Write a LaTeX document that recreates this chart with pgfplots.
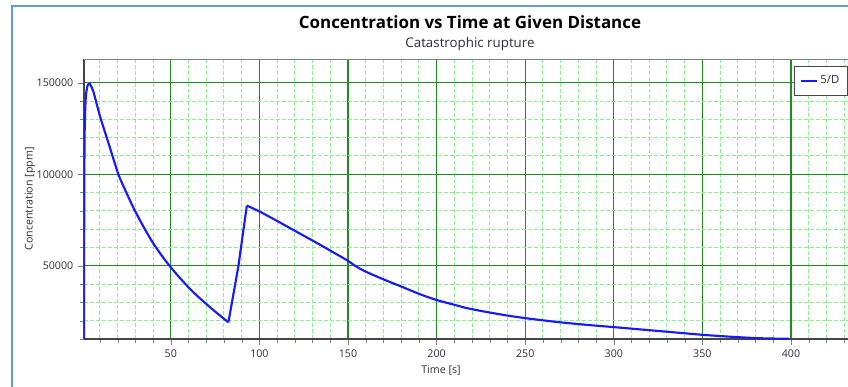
\documentclass[border=0pt]{standalone}
\usepackage{fontspec}
\setmainfont{Open Sans}
\usepackage{pgfplots}
\usepackage{pgfplotstable}
\pgfplotsset{compat=1.18}

\definecolor{gridmajor}{RGB}{30,140,30}
\definecolor{gridminor}{RGB}{144,238,144}
\definecolor{axisgray}{RGB}{70,70,70}
\definecolor{topgray}{RGB}{130,130,130}
\definecolor{framebl}{RGB}{100,155,215}
\definecolor{curveblue}{RGB}{25,25,255}
\definecolor{labelink}{RGB}{45,45,60}

% concentration series, split where the release restarts
\pgfplotstableread{
t c
1.0 10000
1.15 90000
1.4 125000
2.0 142000
3.0 148500
4.1 149500
5.0 148200
6.5 144500
10.1 131500
15 116500
20.4 100000
25 89800
29.5 80550
35 70600
40 62400
45 55400
49.6 49600
55 43500
60.9 37300
66 32600
72.2 27300
77 23400
82.5 19100
}\firstpuff
\pgfplotstableread{
t c
82.5 19100
88.1 49600
92.9 82900
}\secondrise
\pgfplotstableread{
t c
92.9 82900
100 79700
110 74500
123 67500
130 63800
140 58300
150 52700
154 50000
160 46800
170 42600
180 38700
190 34700
200 31300
210 28700
217 26900
228 24800
240 22800
250 21400
260 20200
270 19100
285 17700
300 16500
325 14400
350 12300
365 11300
380 10500
390 10250
399 10100
}\decaytail

\begin{document}
\begin{tikzpicture}
\begin{axis}[
  name=ax,
  scale only axis,
  width=579pt, height=210pt,
  xmin=1, xmax=436.7,
  ymin=10000, ymax=163000,
  axis lines*=left,
  axis line style={-, axisgray, line width=0.9pt},
  xtick distance=50, ytick distance=50000,
  minor x tick num=4, minor y tick num=4,
  tick align=outside,
  major tick length=4.5pt, minor tick length=3pt,
  scaled y ticks=false,
  /pgf/number format/fixed,
  /pgf/number format/precision=0,
  /pgf/number format/1000 sep={},
  /pgf/number format/assume math mode=true,
  ticklabel style={font=\fontsize{8}{9}\selectfont, text=labelink},
  grid=both,
  major grid style={draw=gridmajor, line width=0.8pt, solid},
  minor grid style={draw=gridminor, line width=0.75pt, dash pattern=on 3pt off 1.5pt},
  xlabel={Time [s]},
  xlabel style={at={(axis description cs:0.4624,-0.114)}, anchor=center,
    font=\fontsize{8}{9}\selectfont, text=labelink},
  ylabel={Concentration [ppm]},
  ylabel style={at={(axis description cs:-0.070,0.5)}, anchor=center,
    font=\fontsize{8}{9}\selectfont, text=labelink},
  legend style={at={(axis description cs:0.9197,0.975)}, anchor=north west,
    draw=axisgray, fill=white, font=\fontsize{8.5}{10}\selectfont,
    text=labelink, inner xsep=4pt, inner ysep=5pt},
  legend cell align=left,
  legend image code/.code={\draw[#1] (0pt,0pt) -- (12pt,0pt);},
]
\addplot[curveblue, line width=1.6pt, line join=round, smooth, tension=0.4]
  table[x=t, y=c] {\firstpuff};
\addlegendentry{5/D}
\addplot[curveblue, line width=1.6pt, line join=round, forget plot]
  table[x=t, y=c] {\secondrise};
\addplot[curveblue, line width=1.6pt, line join=round, smooth, tension=0.4, forget plot]
  table[x=t, y=c] {\decaytail};
\draw[topgray, line width=0.9pt] (rel axis cs:0,1) -- (rel axis cs:1,1);
\end{axis}
\node[font=\fontsize{12.7}{15}\selectfont\bfseries]
  at (289.5pt,237.75pt) {Concentration vs Time at Given Distance};
\node[font=\fontsize{10}{12}\selectfont, text=labelink]
  at (289.5pt,221.25pt) {Catastrophic rupture};
\draw[framebl, line width=1.5pt] (-54pt,-40pt) -- (-54pt,250pt) -- (640pt,250pt);
\pgfresetboundingbox
\useasboundingbox (-63pt,-35.25pt) rectangle (573pt,254.25pt);
\end{tikzpicture}
\end{document}
